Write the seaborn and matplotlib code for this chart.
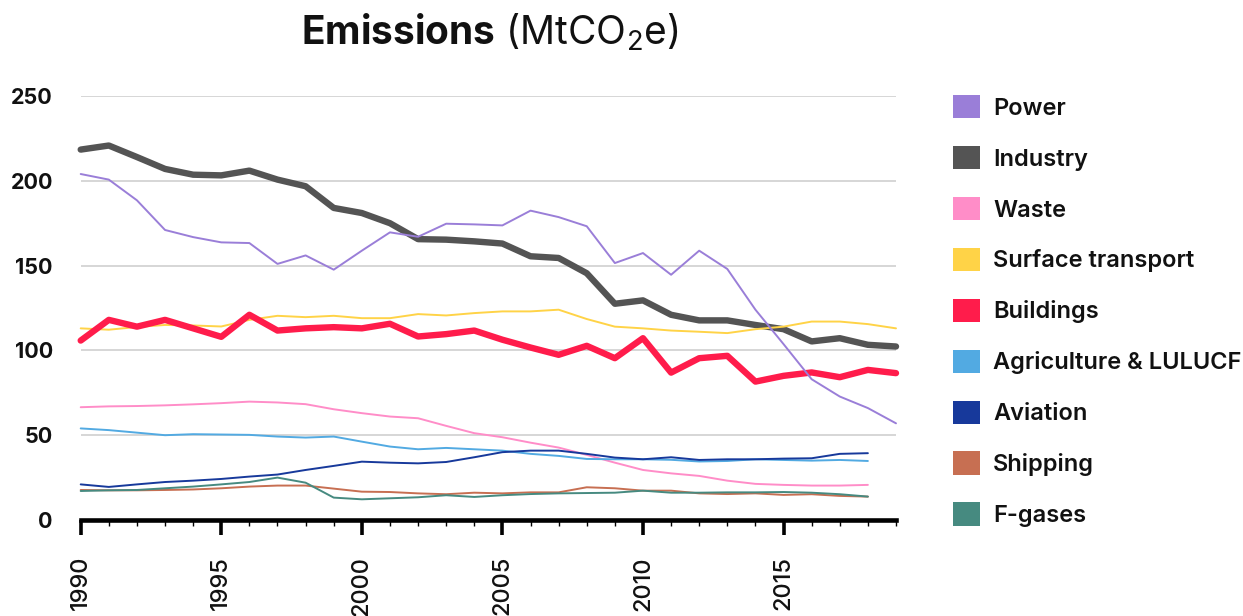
import matplotlib
matplotlib.use("Agg")

import matplotlib.pyplot as plt
import matplotlib.ticker as mticker
from matplotlib.patches import Patch
import seaborn as sns

# Values (MtCO2e)
years = list(range(1990, 2020))

power = [204, 200.7, 188.5, 171, 166.8, 163.7, 163.3, 151, 156, 147.6,
         158.8, 169.6, 167, 174.7, 174.3, 173.7, 182.4, 178.6, 173.2, 151.5,
         157.4, 144.6, 158.8, 148, 124, 103.7, 83, 72.8, 66, 57]
industry = [218.4, 220.8, 214, 207, 203.6, 203.2, 206, 200.7, 196.8, 184,
            181, 175, 165.6, 165.3, 164.3, 163, 155.5, 154.5, 145.5, 127.5,
            129.5, 121, 117.7, 117.7, 115, 112.5, 105.3, 107.2, 103.3, 102.3]
waste = [66.5, 67, 67.2, 67.6, 68.2, 68.9, 69.8, 69.3, 68.3, 65.3,
         63, 61, 60, 55.5, 51.2, 48.8, 45.6, 42.7, 38.4, 33.8,
         29.5, 27.5, 26, 23.2, 21.3, 20.7, 20.3, 20.3, 20.7]
surface_transport = [113, 112.2, 113.8, 115, 114.7, 114.1, 118, 120.4, 119.6, 120.4,
                     119, 119, 121.4, 120.6, 122, 123, 123, 124, 118.5, 114,
                     113, 111.7, 111, 110.2, 112.5, 114, 117, 117, 115.5, 113]
buildings = [105.8, 118, 114, 118, 113, 108, 121, 111.7, 113, 113.7,
             113, 115.7, 108.2, 109.6, 111.7, 106.3, 101.7, 97.4, 102.7, 95.4,
             107.2, 86.9, 95.4, 96.8, 81.6, 85, 87, 84.2, 88.5, 86.6]
agriculture = [54, 53, 51.5, 50, 50.6, 50.4, 50.2, 49.2, 48.6, 49.2,
               46.2, 43.3, 41.7, 42.5, 41.7, 40.9, 39, 37.8, 36, 35.8,
               35.8, 35.5, 34.5, 34.8, 35.8, 35.4, 35, 35.4, 34.8]
aviation = [21, 19.5, 21, 22.4, 23.2, 24.2, 25.6, 26.8, 29.5, 31.9,
            34.4, 33.8, 33.4, 34.2, 37, 40, 40.9, 40.9, 39, 36.8,
            35.8, 37, 35.4, 35.8, 35.8, 36.2, 36.4, 39, 39.4]
shipping = [17.7, 17.5, 17.5, 17.7, 18, 18.7, 19.7, 20.3, 20.3, 18.5,
            16.7, 16.5, 15.7, 15.2, 16.1, 15.7, 16.3, 16.3, 19.3, 18.7,
            17.3, 17.3, 15.7, 15.3, 15.7, 14.8, 15.2, 14.2, 13.8]
f_gases = [17.1, 17.5, 17.7, 18.7, 19.7, 21, 22.4, 25, 22, 13.2,
           12.2, 12.8, 13.4, 14.6, 13.6, 14.6, 15.3, 15.7, 15.9, 16.1,
           17.3, 16.1, 16.1, 16.3, 16.3, 16.5, 16.1, 15.2, 13.8]

sectors = ["Power", "Industry", "Waste", "Surface transport", "Buildings",
           "Agriculture & LULUCF", "Aviation", "Shipping", "F-gases"]
series = [power, industry, waste, surface_transport, buildings,
          agriculture, aviation, shipping, f_gases]
colors = ["#9a7ed8", "#545454", "#ff8dc8", "#ffd347", "#ff1c4b",
          "#52aae2", "#17399b", "#c76f52", "#468a80"]
widths = [1.4, 4.6, 1.4, 1.4, 4.6, 1.4, 1.4, 1.4, 1.4]
zorders = [3.5, 2.2, 3, 2.5, 2.8, 3, 3, 3, 3]

sns.set_theme(style="white")
plt.rcParams.update({
    "font.family": ["Inter", "DejaVu Sans"],
    "text.color": "#111111",
    "xtick.color": "#111111",
    "ytick.color": "#111111",
    "mathtext.fontset": "custom",
    "mathtext.rm": "Inter",
    "mathtext.it": "Inter",
    "mathtext.bf": "Inter:bold",
})

fig = plt.figure(figsize=(12.43, 6.16), dpi=100)
ax = fig.add_axes([80.7 / 1243, 96 / 616, (896 - 80.7) / 1243, 424 / 616])

for name, vals, col, lw, zo in zip(sectors, series, colors, widths, zorders):
    sns.lineplot(x=years[:len(vals)], y=vals, color=col, linewidth=lw,
                 zorder=zo, ax=ax, solid_capstyle="round", clip_on=False)

ax.set_xlim(1990, 2019)
ax.set_ylim(0, 250)
ax.set_yticks(range(0, 251, 50))
ax.xaxis.set_major_locator(mticker.MultipleLocator(5))
ax.xaxis.set_minor_locator(mticker.MultipleLocator(1))
ax.yaxis.grid(True, color="#cccccc", linewidth=1.1)
ax.set_axisbelow(True)

for side in ["top", "right", "left"]:
    ax.spines[side].set_visible(False)
ax.spines["bottom"].set_color("black")
ax.spines["bottom"].set_linewidth(3.3)

ax.tick_params(axis="x", which="major", direction="out", length=11, width=2.6,
               color="black", bottom=True, pad=15, labelsize=17, labelrotation=90)
ax.tick_params(axis="x", which="minor", direction="out", length=4.5, width=1,
               color="black", bottom=True)
ax.tick_params(axis="y", length=0, pad=20, labelsize=15.5)
for lab in ax.get_yticklabels():
    lab.set_fontweight("bold")
for lab in ax.get_xticklabels():
    lab.set_fontweight("medium")
ax.set_xlabel("")
ax.set_ylabel("")

handles = [Patch(facecolor=c, edgecolor="none", label=s) for s, c in zip(sectors, colors)]
leg = fig.legend(handles=handles, loc="upper left",
                 bbox_to_anchor=(953 / 1243, 1 - 95 / 616), frameon=False,
                 fontsize=17, handlelength=1.15, handleheight=1.15,
                 handletextpad=0.55, labelspacing=1.11, borderpad=0, borderaxespad=0)
for t in leg.get_texts():
    t.set_fontweight("semibold")

fig.text(490 / 1243, 1 - 32 / 616, r"$\mathbf{Emissions}$ (MtCO$_2$e)",
         ha="center", va="center", fontsize=28)

fig.savefig("out.png", dpi=100)
plt.close(fig)
